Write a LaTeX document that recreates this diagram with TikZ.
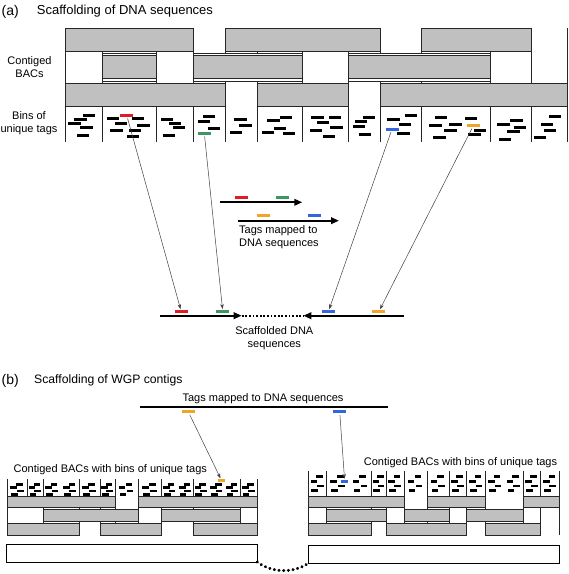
\documentclass[tikz,border=0pt]{standalone}
\usepackage{fontspec}
\setmainfont{Liberation Sans}
\usetikzlibrary{arrows.meta}

\definecolor{tagred}{RGB}{222,30,36}
\definecolor{taggreen}{RGB}{60,150,100}
\definecolor{tagblue}{RGB}{52,100,222}
\definecolor{tagorange}{RGB}{240,165,40}
\definecolor{bacgray}{RGB}{192,192,192}

\tikzset{
  bac/.style={draw=black!85,fill=bacgray,line width=0.8pt},
  bacbox/.style={draw=black!85,fill=white,line width=0.8pt},
  binline/.style={draw=black!85,line width=0.8pt},
  tagbar/.style={fill=black,inner sep=0pt,minimum width=13pt,minimum height=3pt},
  mini/.style={fill=black,inner sep=0pt,minimum width=6.5pt,minimum height=2.8pt},
  seqline/.style={line width=2pt,-{Triangle[length=8pt,width=6.5pt]}},
  pointer/.style={draw=black!75,line width=0.5pt,shorten <=1.5pt,shorten >=1pt,-{Stealth[length=5pt,width=3.5pt]}},
  lbl/.style={font=\fontsize{11}{13}\selectfont,align=center,inner sep=0pt},
  head/.style={font=\fontsize{14}{16}\selectfont,inner sep=0pt},
}

\begin{document}
\begin{tikzpicture}[x=1pt,y=-1pt]
  \useasboundingbox (0,0) rectangle (569,574);

  % (a) Scaffolding of DNA sequences
  \node[head,anchor=base west] (parta) at (1.5,15.5) {(a)};
  \node[inner sep=0pt,font=\fontsize{13}{15}\selectfont,anchor=base west] (titlea) at (36.7,14.5) {Scaffolding of DNA sequences};
  \node[lbl] (bacs) at (29.5,67.5) {Contiged\\BACs};
  \node[lbl] (bins) at (29,123) {Bins of\\unique tags};

  % column lines, then the contiged BACs on top
  \foreach \x in {65,102,156,193,225,257,302.7,348,380.7,421.7,490,531.3,567.5}
    \draw[binline] (\x,28.3) -- (\x,142);
  \foreach \a/\b in {65/193,225/380.7,421.7/531.3}
    \draw[bac] (\a,28.3) rectangle (\b,51);
  \foreach \a/\b in {102/156,193/302.7,348/490} {
    \draw[bacbox] (\a,53.3) rectangle (\b,81);
    \draw[bac] (\a,55.7) rectangle (\b,78.3);
  }
  \foreach \a/\b in {65/225,257/348,380.7/567.5}
    \draw[bac] (\a,83.3) rectangle (\b,106);

  % unique tags in the bins
  \foreach \x/\y in {88.8/115.7,80.7/119,74.2/123.3,86.7/127.7,83/135,
      113/118.3,138/118.3,121/123.3,143.3/125.7,116.3/130.7,135/130.7,133/136.7,
      167/119,175/123.3,179/127.7,169/135,
      209/116,204/121,214/128.3,
      240.5/119.3,245.3/125,236/132.3,
      286/117.7,273.5/120.7,280/128.3,268/132.3,289/133.3,
      317.7/117.3,335/117.3,323/122.7,336.7/127.3,315.8/130,328.8/136,
      369/117.3,361/121.7,359/126.7,365/134,
      411/115,393.3/119,405/124,403.7/133.3,
      441/117.7,471/118.3,435.3/125,455.7/124,480/130.7,450.5/130.7,439.5/137.3,474.7/134.3,
      516.7/120,503.3/124,520/127.3,513.3/131.7,505/139.3,
      555/116,547/124,550/130,540/137.3}
    \fill ({\x-6.3},{\y-1.5}) rectangle +(12.7,3);
  \node[tagbar,fill=tagred] (redbin) at (126.7,115.3) {};
  \node[tagbar,fill=taggreen] (greenbin) at (204.3,133.3) {};
  \node[tagbar,fill=tagblue] (bluebin) at (392,129) {};
  \node[tagbar,fill=tagorange] (orangebin) at (473.3,125.7) {};

  % tags mapped to DNA sequences
  \coordinate (m1s) at (220,202.3);
  \coordinate (m1e) at (302.3,202.3);
  \coordinate (m2s) at (238.3,220.7);
  \coordinate (m2e) at (339,220.7);
  \draw[seqline] (m1s) -- (m1e);
  \draw[seqline] (m2s) -- (m2e);
  \node[tagbar,fill=tagred] (redmap) at (241,197.3) {};
  \node[tagbar,fill=taggreen] (greenmap) at (282,197.3) {};
  \node[tagbar,fill=tagorange] (orangemap) at (263.7,215.7) {};
  \node[tagbar,fill=tagblue] (bluemap) at (314.2,215.7) {};
  \node[lbl,align=left,anchor=west] (mapped) at (239,237.3) {Tags mapped to\\DNA sequences};

  % scaffolded DNA sequences
  \coordinate (sl) at (160,315.7);
  \coordinate (sm1) at (241.7,315.7);
  \coordinate (sm2) at (303.3,315.7);
  \coordinate (sr) at (404,315.7);
  \draw[seqline] (sl) -- (sm1);
  \draw[seqline] (sr) -- (sm2);
  \draw[line width=1.8pt,dash pattern=on 1.8pt off 1.8pt] (sm1) -- (sm2);
  \node[tagbar,fill=tagred] (redscaf) at (181.3,311.8) {};
  \node[tagbar,fill=taggreen] (greenscaf) at (222.8,311.8) {};
  \node[tagbar,fill=tagblue] (bluescaf) at (328.3,311.8) {};
  \node[tagbar,fill=tagorange] (orangescaf) at (378.7,311.8) {};
  \node[lbl] (scaf) at (274.3,338) {Scaffolded DNA\\sequences};

  \draw[pointer] (redbin) -- (redscaf);
  \draw[pointer] (greenbin) -- (greenscaf);
  \draw[pointer] (bluebin) -- (bluescaf);
  \draw[pointer] (orangebin) -- (orangescaf);

  % (b) Scaffolding of WGP contigs
  \node[head,anchor=base west] (partb) at (1.5,384) {(b)};
  \node[inner sep=0pt,font=\fontsize{12.2}{14}\selectfont,anchor=base west] (titleb) at (34,383.5) {Scaffolding of WGP contigs};
  \node[lbl,anchor=base] (tagsb) at (263,401) {Tags mapped to DNA sequences};
  \coordinate (tl) at (140,407.3);
  \coordinate (tr) at (388.3,407.3);
  \draw[line width=2.3pt] (tl) -- (tr);
  \node[tagbar,fill=tagorange] (orangeseq) at (188.3,411.8) {};
  \node[tagbar,fill=tagblue] (blueseq) at (339.7,411.8) {};

  % left contig
  \node[lbl,anchor=base] (cbl) at (110.3,472.5) {Contiged BACs with bins of unique tags};
  \foreach \x in {7.3,43.3,79,100,115,138.3,161.7,193.3,240,257.7}
    \draw[binline] (\x,479.3) -- (\x,535);
  \draw[binline] (27.3,479.3) -- (27.3,496.5);
  \foreach \a/\b in {7.3/115,138.3/257.7}
    \draw[bac] (\a,496.5) rectangle (\b,507);
  \foreach \a/\b in {43.3/138.3,161.7/240}
    \draw[bac] (\a,509.5) rectangle (\b,521);
  \foreach \a/\b in {7.3/79,100/161.7,193.3/257.7}
    \draw[bac] (\a,523) rectangle (\b,535);
  \foreach \a/\b in {7.3/27.3,27.3/43.3,43.3/61.2,61.2/79,79/100,100/115,115/138.3,
      138.3/161.7,161.7/177.5,177.5/193.3,193.3/209,209/224.6,224.6/240,240/257.7} {
    \fill ({\a+0.6*(\b-\a)-3.3},483) rectangle +(6.6,2.8);
    \fill ({\a+0.3*(\b-\a)-3.3},486.3) rectangle +(6.6,2.8);
    \fill ({\a+0.65*(\b-\a)-3.3},489.6) rectangle +(6.6,2.8);
    \fill ({\a+0.35*(\b-\a)-3.3},492.9) rectangle +(6.6,2.8);
  }
  \draw[line width=1pt] (6.7,544) rectangle (257.3,562);
  \coordinate (lend) at (257.3,562);

  % right contig
  \node[lbl,anchor=base] (cbr) at (460.5,465) {Contiged BACs with bins of unique tags};
  \foreach \x in {308.3,326.7,371.7,386,404,427.3,449.3,466.7,485.7,523.3,540.7,559.3}
    \draw[binline] (\x,470.7) -- (\x,535);
  \foreach \a/\b in {308.3/404,427.3/485.7,523.3/559.3}
    \draw[bac] (\a,496.5) rectangle (\b,507);
  \foreach \a/\b in {326.7/386,404/449.3,466.7/523.3}
    \draw[bac] (\a,509.5) rectangle (\b,521);
  \foreach \a/\b in {308.3/371.7,386/466.7,485.7/540.7}
    \draw[bac] (\a,523) rectangle (\b,535);
  \foreach \a/\b in {308.3/326.7,326.7/349.2,349.2/371.7,371.7/386,386/404,404/427.3,
      427.3/449.3,449.3/466.7,466.7/485.7,485.7/504.5,504.5/523.3,523.3/540.7,540.7/559.3} {
    \fill ({\a+0.6*(\b-\a)-3.3},475) rectangle +(6.6,2.8);
    \fill ({\a+0.3*(\b-\a)-3.3},479.8) rectangle +(6.6,2.8);
    \fill ({\a+0.65*(\b-\a)-3.3},484.6) rectangle +(6.6,2.8);
    \fill ({\a+0.35*(\b-\a)-3.3},489.4) rectangle +(6.6,2.8);
  }
  \draw[line width=1pt] (308.3,545) rectangle (559.3,563.3);
  \coordinate (rend) at (308.3,563.3);

  \node[mini,fill=tagorange] (orangebac) at (221.7,480.8) {};
  \node[mini,fill=tagblue] (bluebac) at (344.7,481.3) {};
  \draw[pointer] (orangeseq) -- (orangebac);
  \draw[pointer] (blueseq) -- (bluebac);

  \draw[line width=3.2pt,line cap=round,dash pattern=on 0.1pt off 4.6pt] (lend) .. controls (272,573) and (293,573.5) .. (rend);

\end{tikzpicture}
\end{document}
